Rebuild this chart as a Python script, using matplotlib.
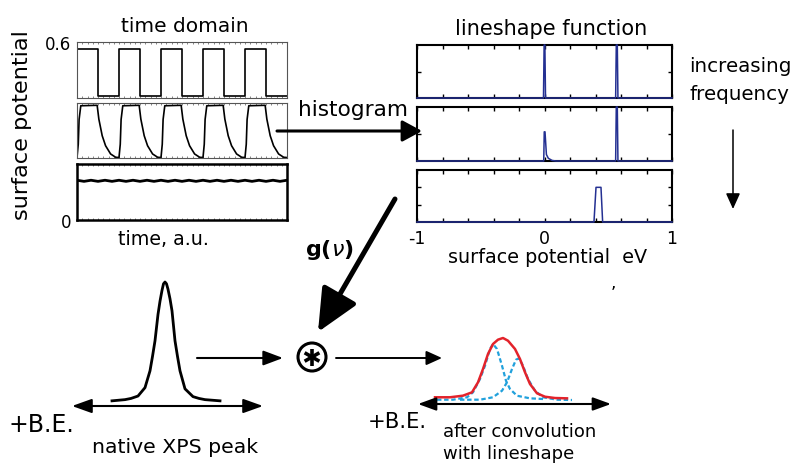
import matplotlib
matplotlib.use('Agg')
import matplotlib.pyplot as plt
import numpy as np
from matplotlib.patches import FancyArrowPatch, Circle

W, H = 805, 464

# --- time domain traces (surface potential, V) ---
square_t = [0, 0.5, 1, 1.5, 2, 2.5, 3, 3.5, 4, 4.5, 5]
square_v = [0.525, 0.021, 0.525, 0.021, 0.525, 0.021, 0.525, 0.021, 0.525, 0.021, 0.021]

rc_phase = [0.00, 0.03, 0.05, 0.09, 0.48, 0.52, 0.60, 0.68, 0.80, 0.92, 1.00]
rc_value = [0.005, 0.15, 0.42, 0.57, 0.575, 0.425, 0.243, 0.134, 0.044, 0.008, 0.005]
n_periods = 5

ripple_v = [0.426, 0.414, 0.426, 0.414, 0.426, 0.414, 0.426, 0.414, 0.426, 0.414,
            0.426, 0.414, 0.426, 0.414, 0.426, 0.414, 0.426, 0.414, 0.426, 0.414,
            0.426, 0.414, 0.426, 0.414, 0.426, 0.414, 0.426, 0.414, 0.426, 0.414, 0.426]

# --- lineshape functions (histograms of surface potential, eV) ---
ls1_x = [-1, -0.008, -0.003, 0.003, 0.008, 0.558, 0.563, 0.571, 0.576, 1]
ls1_y = [0, 0, 1, 1, 0, 0, 1, 1, 0, 0]
ls2_x = [-1, -0.006, -0.002, 0.004, 0.015, 0.03, 0.06, 0.09, 0.558, 0.563, 0.571, 0.576, 1]
ls2_y = [0, 0, 0.54, 0.54, 0.12, 0.05, 0.01, 0, 0, 1, 1, 0, 0]
ls3_x = [-1, 0.388, 0.404, 0.443, 0.456, 1]
ls3_y = [0, 0, 1, 1, 0, 0]
ls_ticks = [-1, -0.8, -0.6, -0.4, -0.2, 0, 0.2, 0.4, 0.6, 0.8, 1]
ls_ticklabels = ['-1', '', '', '', '', '0', '', '', '', '', '1']

# --- native XPS peak ---
xps_x = [-5.3, -4.0, -3.4, -2.7, -2.0, -1.5, -1.25, -1.0, -0.7, -0.5, -0.3, -0.15, 0.0,
         0.15, 0.3, 0.5, 0.7, 1.0, 1.25, 1.5, 2.0, 2.8, 3.4, 4.0, 5.5]
xps_y = [0.01, 0.02, 0.03, 0.05, 0.12, 0.26, 0.38, 0.51, 0.73, 0.84, 0.93, 0.985, 1.0,
         0.985, 0.94, 0.86, 0.76, 0.51, 0.38, 0.26, 0.11, 0.045, 0.03, 0.02, 0.01]

# --- peak after convolution and its two components ---
conv_x = [-6.8, -5.3, -4.0, -3.1, -2.5, -2.0, -1.5, -1.0, -0.5, 0.0, 0.5, 1.2, 1.7, 2.2, 2.7, 3.4, 4.2, 5.2, 6.4]
conv_y = [0.044, 0.044, 0.07, 0.124, 0.285, 0.5, 0.742, 0.903, 0.973, 1.0, 0.956, 0.823, 0.661, 0.447, 0.258, 0.108, 0.053, 0.032, 0.027]
comp1_x = [-6.6, -5.0, -3.6, -3.0, -2.3, -1.8, -1.3, -1.0, -0.6, -0.1, 0.3, 0.7, 1.4, 2.7, 4.0]
comp1_y = [0.005, 0.005, 0.044, 0.124, 0.339, 0.553, 0.823, 0.903, 0.823, 0.553, 0.311, 0.177, 0.069, 0.027, 0.016]
comp2_x = [-4.3, -2.3, -1.0, -0.1, 0.4, 0.9, 1.3, 1.6, 2.0, 2.5, 3.2, 4.0, 5.4, 6.9]
comp2_y = [0.005, 0.005, 0.044, 0.15, 0.285, 0.5, 0.65, 0.673, 0.553, 0.339, 0.15, 0.044, 0.005, 0.0]

BLUE = '#243092'
RED = '#e3232b'
LBLUE = '#21a1dc'


def box(x0, y0, x1, y1):
    return [x0 / W, 1 - y1 / H, (x1 - x0) / W, (y1 - y0) / H]


fig = plt.figure(figsize=(W / 100, H / 100), dpi=100)

# left: time domain panels
left_boxes = [(77, 43, 287, 99), (77, 104, 287, 159), (77, 165, 287, 221)]
left_axes = [fig.add_axes(box(*b)) for b in left_boxes]
for i, ax in enumerate(left_axes):
    ax.set_xlim(0, 5)
    ax.set_ylim(0, 0.6)
    ax.set_xticks(np.arange(0, 5.01, 0.125))
    ax.tick_params(axis='x', direction='in', top=True, bottom=True, length=1.5,
                   width=0.5, color='#555555', labelbottom=False)
    ax.tick_params(axis='y', length=0, labelsize=12, pad=4)
    ax.set_yticks([])
    for sp in ax.spines.values():
        if i < 2:
            sp.set_linewidth(0.8)
            sp.set_color('#555555')
        else:
            sp.set_linewidth(1.8)
            sp.set_color('black')

left_axes[0].step(square_t, square_v, where='post', color='black', lw=1.2)
left_axes[0].set_yticks([0.6])
left_axes[0].set_yticklabels(['0.6'])

rc_t = np.concatenate([np.array(rc_phase) + k for k in range(n_periods)])
rc_v = np.tile(rc_value, n_periods)
left_axes[1].plot(rc_t, rc_v, color='black', lw=1.2)

left_axes[2].plot(np.linspace(0, 5, len(ripple_v)), ripple_v, color='black', lw=2.0)
left_axes[2].set_yticks([0])
left_axes[2].set_yticklabels(['0'])

# right: lineshape panels
right_boxes = [(417, 46, 672, 99), (417, 108, 672, 162), (417, 171, 672, 223)]
right_axes = [fig.add_axes(box(*b)) for b in right_boxes]
for ax, xs, ys in zip(right_axes, [ls1_x, ls2_x, ls3_x], [ls1_y, ls2_y, ls3_y]):
    ax.plot(xs, ys, color=BLUE, lw=1.1, zorder=3, clip_on=False)
    ax.set_xlim(-1, 1)
    ax.set_xticks(ls_ticks)
    ax.set_xticklabels(ls_ticklabels)
    ax.tick_params(direction='in', top=True, right=True, length=3, width=1,
                   labelbottom=False, labelleft=False, labelsize=12.5, pad=5)
    for sp in ax.spines.values():
        sp.set_linewidth(1.5)
right_axes[0].set_ylim(0, 1)
right_axes[0].set_yticks([0.5])
right_axes[1].set_ylim(0, 1)
right_axes[1].set_yticks([0.5])
right_axes[2].set_ylim(0, 1.5)
right_axes[2].set_yticks([0.5, 1.0])
right_axes[2].tick_params(labelbottom=True)

# native XPS peak
pk = fig.add_axes(box(72, 280, 263, 410))
pk.plot(xps_x, xps_y, color='black', lw=2.0, solid_joinstyle='round')
pk.set_xlim(-9.3, 9.8)
pk.set_ylim(-0.058, 1.025)
pk.axis('off')

# after convolution
cv = fig.add_axes(box(418, 330, 611, 410))
cv.plot(comp1_x, comp1_y, color=LBLUE, lw=1.6, ls=(0, (2, 1.2)))
cv.plot(comp2_x, comp2_y, color=LBLUE, lw=1.6, ls=(0, (2, 1.2)))
cv.plot(conv_x, conv_y, color=RED, lw=1.8, solid_joinstyle='round')
cv.set_xlim(-8.5, 10.8)
cv.set_ylim(-0.145, 1.145)
cv.axis('off')

# overlay for arrows and text (pixel coordinates)
ov = fig.add_axes([0, 0, 1, 1])
ov.set_xlim(0, W)
ov.set_ylim(H, 0)
ov.axis('off')


def arrow(p0, p1, lw, hl, hw, style='-|>'):
    ov.add_patch(FancyArrowPatch(p0, p1, arrowstyle=f'{style},head_length={hl},head_width={hw}',
                                 mutation_scale=1, lw=lw, color='black',
                                 shrinkA=0, shrinkB=0))


arrow((277, 132), (422, 132), 2.2, 12, 6.5)
arrow((395, 200), (318, 333), 3.6, 26, 12)
arrow((197, 359), (283, 359), 1.5, 12, 4.5)
arrow((336, 359), (442, 359), 1.4, 9.5, 4.3)
arrow((733, 131), (733, 210), 1.1, 9.5, 4.3)
arrow((72, 407), (263, 407), 1.5, 12, 4.3, style='<|-|>')
arrow((418, 405), (611, 405), 1.5, 11, 4.0, style='<|-|>')

# convolution symbol
cx, cy, r = 312, 358, 14
ov.add_patch(Circle((cx, cy), r, fill=False, lw=2.2, color='black'))
for ang in [90, 30, 150]:
    dx = 8.5 * np.cos(np.radians(ang))
    dy = 8.5 * np.sin(np.radians(ang))
    ov.plot([cx - dx, cx + dx], [cy - dy, cy + dy], color='black', lw=2.6,
            solid_capstyle='butt')

ov.text(185, 31.7, 'time domain', fontsize=14.5, ha='center', va='baseline')
ov.text(551, 35, 'lineshape function', fontsize=15, ha='center', va='baseline')
ov.text(22, 125, 'surface potential', fontsize=16.2, rotation=90, ha='center', va='center')
ov.text(163, 245.5, 'time, a.u.', fontsize=13.7, ha='center', va='baseline')
ov.text(548, 263, 'surface potential  eV', fontsize=13.8, ha='center', va='baseline')
ov.text(353, 116, 'histogram', fontsize=15.6, ha='center', va='baseline')
ov.text(689, 72, 'increasing', fontsize=14.3, ha='left', va='baseline')
ov.text(689, 100, 'frequency', fontsize=14.3, ha='left', va='baseline')
ov.text(329, 250, r'g($\nu$)', fontsize=16, fontweight='bold', ha='center', va='center')
ov.text(613, 288, ',', fontsize=12, ha='center', va='baseline')
ov.text(8, 431.7, '+B.E.', fontsize=17, ha='left', va='baseline')
ov.text(175, 452.7, 'native XPS peak', fontsize=14.7, ha='center', va='baseline')
ov.text(368, 428, '+B.E.', fontsize=15.2, ha='left', va='baseline')
ov.text(443, 436.7, 'after convolution', fontsize=13, ha='left', va='baseline')
ov.text(443, 459, 'with lineshape', fontsize=13, ha='left', va='baseline')

fig.savefig('out.png', dpi=100)
